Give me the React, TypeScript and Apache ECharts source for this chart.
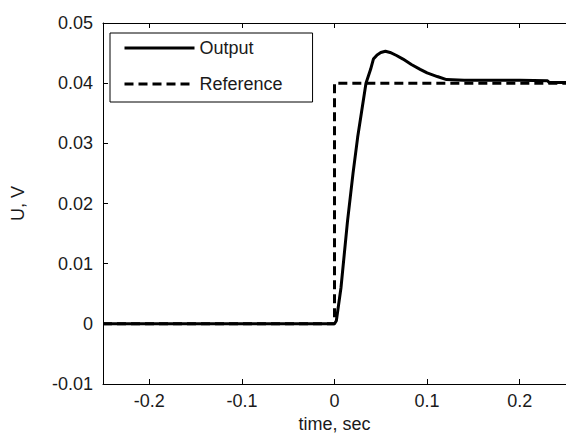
import React, { useEffect, useRef } from "react";
import * as echarts from "echarts";

const xTicks = [-0.2, -0.1, 0, 0.1, 0.2];
const outputT = [-0.25, 0, 0.002, 0.007, 0.014, 0.02, 0.025, 0.029, 0.034, 0.039, 0.042, 0.046, 0.05, 0.055, 0.06, 0.067, 0.074, 0.083, 0.0925, 0.1, 0.111, 0.121, 0.14, 0.17, 0.2, 0.23, 0.232, 0.25];
const outputU = [0, 0, 0.0005, 0.006, 0.017, 0.025, 0.031, 0.035, 0.04, 0.0423, 0.044, 0.0447, 0.0451, 0.0453, 0.0451, 0.0446, 0.044, 0.0431, 0.0423, 0.0417, 0.0411, 0.0406, 0.0405, 0.0405, 0.0405, 0.0404, 0.0401, 0.0401];
const refT = [-0.25, 0, 0, 0.25];
const refU = [0, 0, 0.04, 0.04];

const FONT = "'Liberation Sans', Arial, sans-serif";
const TXT = "#1a1a1a";

export default function App() {
  const ref = useRef<HTMLDivElement>(null);
  useEffect(() => {
    const chart = echarts.init(ref.current!, null, { renderer: "svg" });
    const xCommon = {
      type: "value" as const,
      min: -0.25,
      max: 0.25,
      splitLine: { show: false },
      axisLine: { show: true, onZero: false, lineStyle: { color: "#000", width: 1 } },
    };
    chart.setOption({
      animation: false,
      backgroundColor: "#fff",
      textStyle: { fontFamily: FONT },
      grid: { left: 103, top: 23, right: 0, bottom: 55 },
      legend: {
        orient: "vertical",
        left: 110,
        top: 33,
        padding: [6, 30, 9, 13],
        borderColor: "#000",
        borderWidth: 1,
        backgroundColor: "#fff",
        itemWidth: 70,
        itemHeight: 18,
        itemGap: 18,
        data: ["Output", "Reference"],
        itemStyle: { opacity: 0 },
        lineStyle: { width: 3, color: "#000" },
        textStyle: { fontSize: 18, color: TXT, fontFamily: FONT, lineHeight: 18 },
      },
      xAxis: [
        {
          ...xCommon,
          position: "bottom",
          name: "time, sec",
          nameLocation: "middle",
          nameGap: 29,
          nameTextStyle: { fontSize: 18, color: TXT, fontFamily: FONT },
          axisTick: { show: true, inside: true, length: 5, customValues: xTicks, lineStyle: { color: "#000" } },
          axisLabel: { show: true, margin: 8, fontSize: 18, color: TXT, fontFamily: FONT, customValues: xTicks },
        },
        {
          ...xCommon,
          position: "top",
          axisTick: { show: true, inside: true, length: 5, customValues: xTicks, lineStyle: { color: "#000" } },
          axisLabel: { show: false, customValues: xTicks },
        },
      ],
      yAxis: {
        type: "value",
        min: -0.01,
        max: 0.05,
        interval: 0.01,
        splitLine: { show: false },
        axisLine: { show: true, onZero: false, lineStyle: { color: "#000", width: 1 } },
        axisTick: { show: true, inside: true, length: 5, lineStyle: { color: "#000" } },
        axisLabel: { margin: 10, fontSize: 18, color: TXT, fontFamily: FONT },
        name: "U, V",
        nameLocation: "middle",
        nameGap: 76,
        nameTextStyle: { fontSize: 18, color: TXT, fontFamily: FONT },
      },
      series: [
        {
          name: "Reference",
          type: "line",
          symbol: "none",
          z: 2,
          data: refT.map((t, i) => [t, refU[i]]),
          lineStyle: { color: "#000", width: 3, type: [9, 5] },
          itemStyle: { color: "#000" },
        },
        {
          name: "Output",
          type: "line",
          symbol: "none",
          z: 3,
          data: outputT.map((t, i) => [t, outputU[i]]),
          lineStyle: { color: "#000", width: 3 },
          itemStyle: { color: "#000" },
        },
      ],
    });
    return () => chart.dispose();
  }, []);
  return <div ref={ref} style={{ position: "fixed", left: 0, top: 0, width: 566, height: 439 }} />;
}
